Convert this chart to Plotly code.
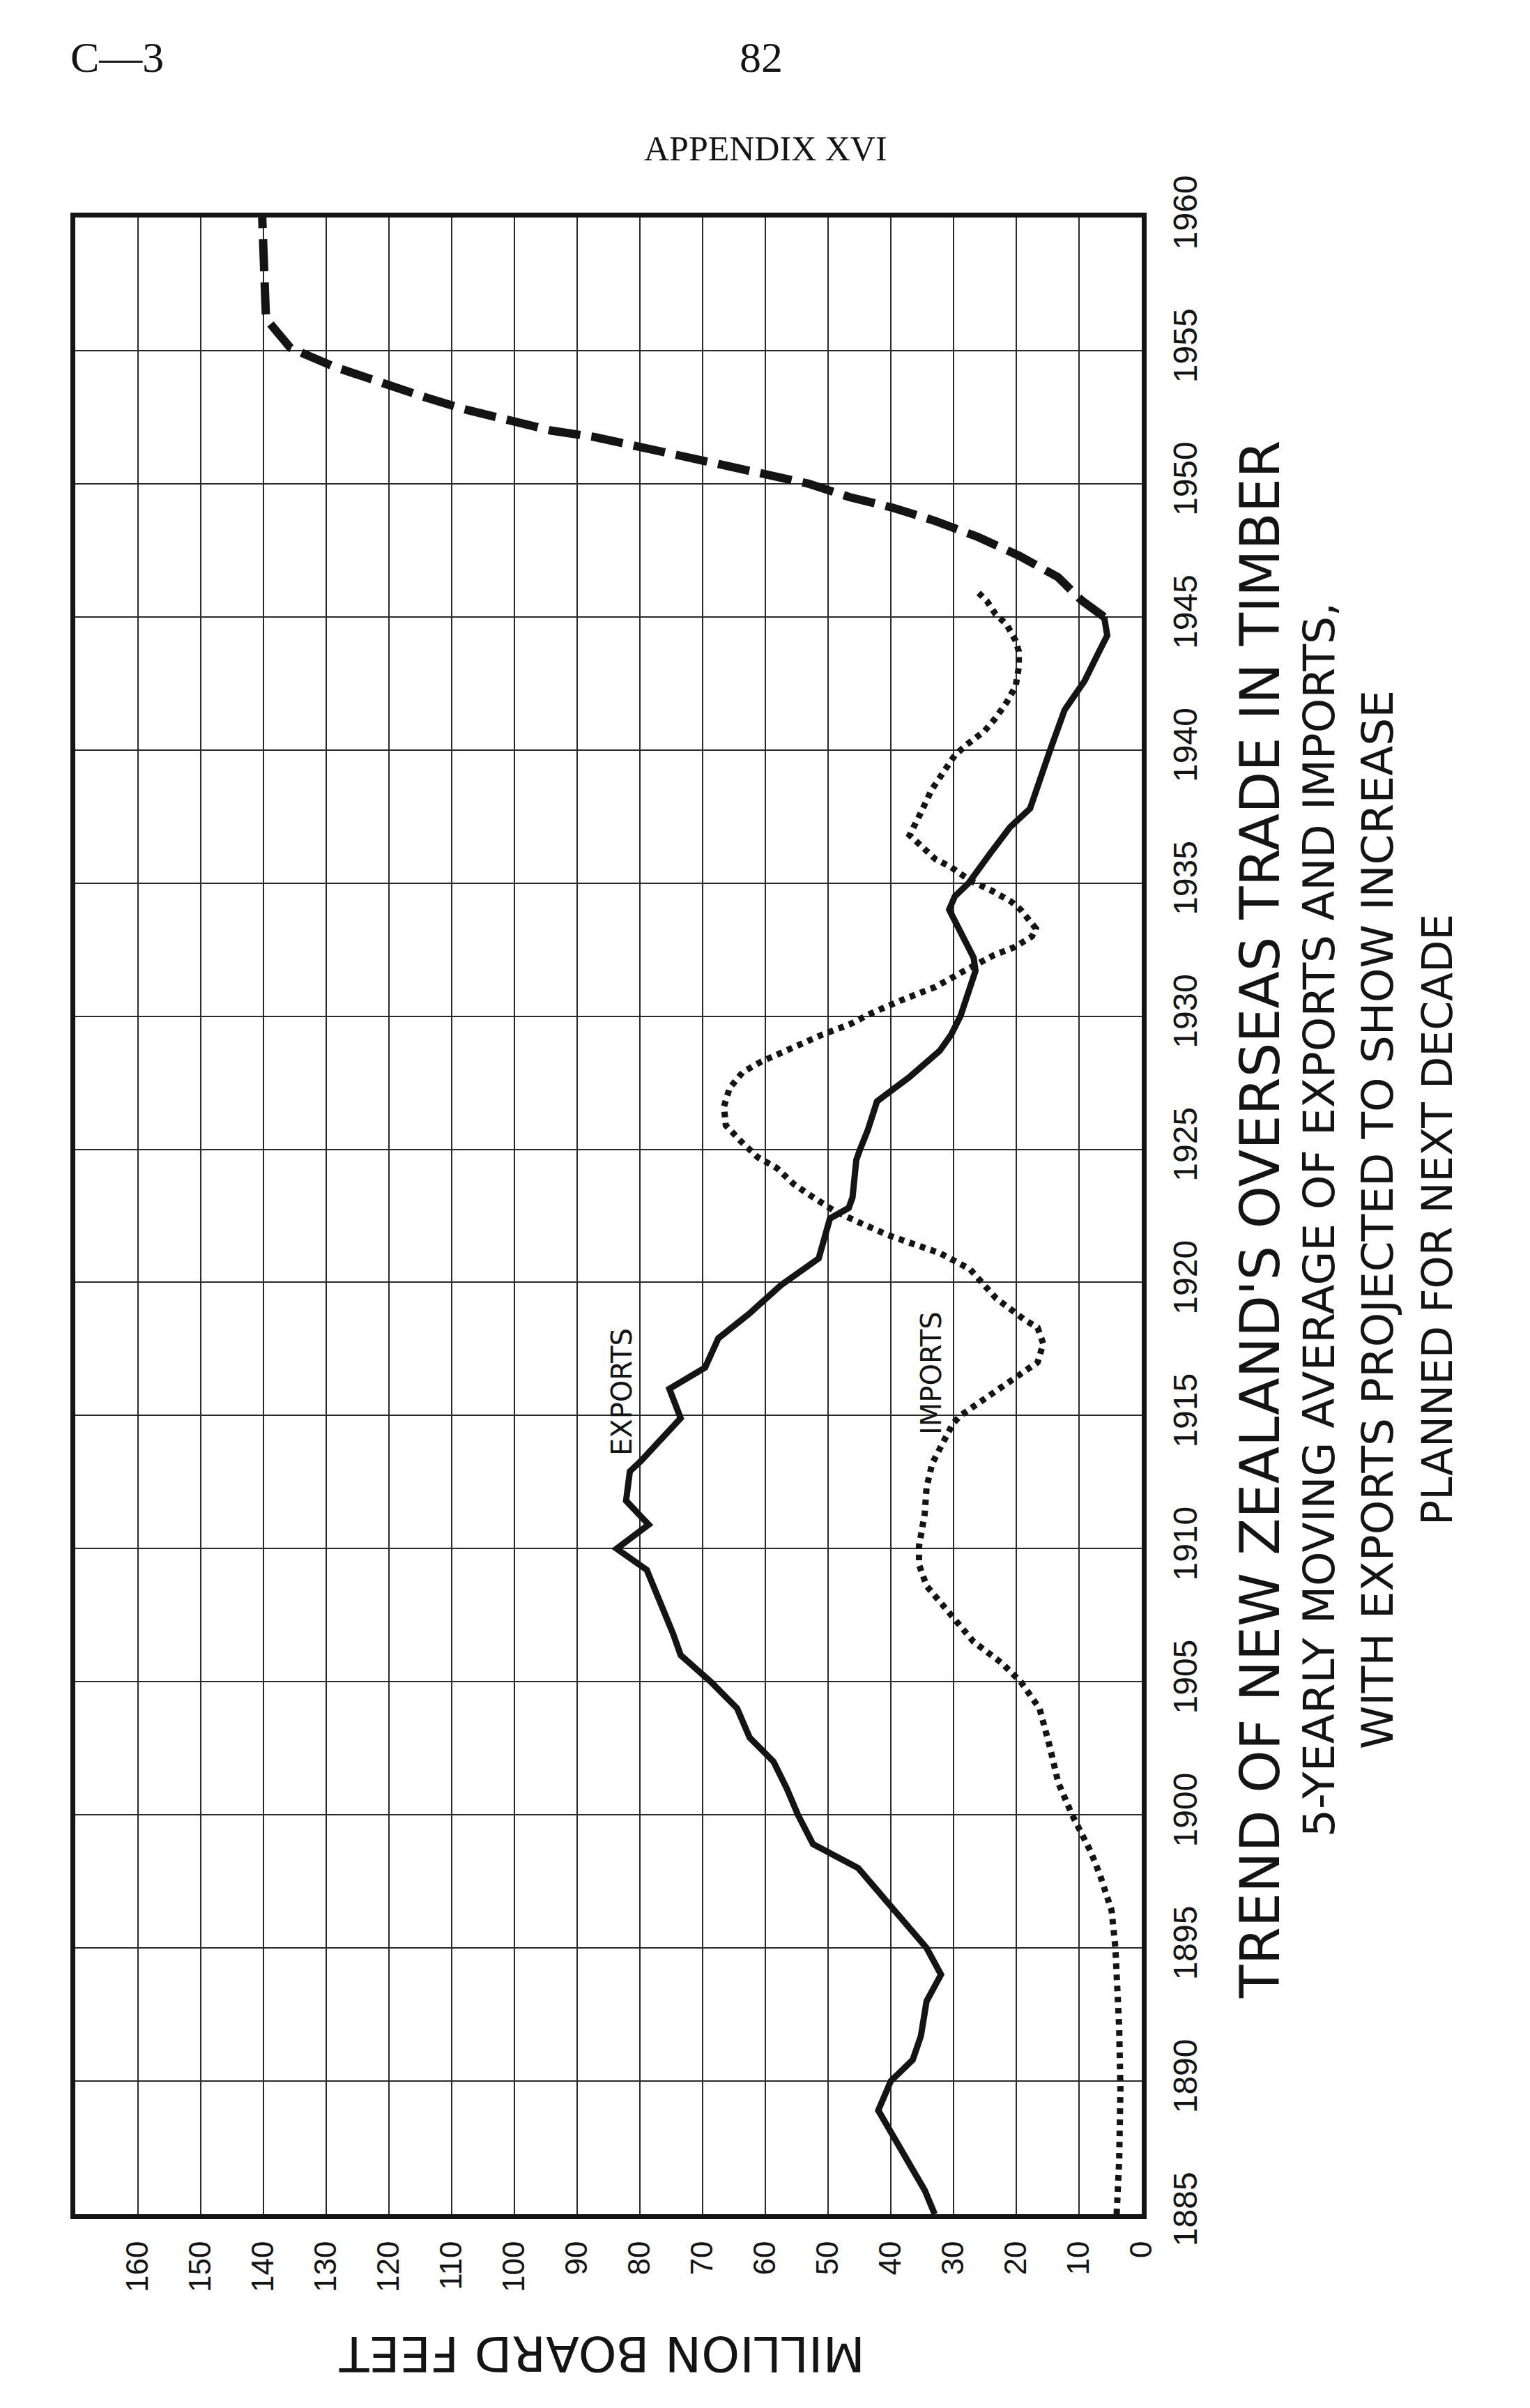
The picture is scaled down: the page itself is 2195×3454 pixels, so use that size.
import plotly.graph_objects as go

# ---------------- data ----------------
export_years = [1885.0, 1885.9, 1888.9, 1890.0, 1890.8, 1891.7, 1893.0, 1894.0, 1895.0,
                1896.5, 1897.7, 1898.0, 1898.9, 1899.3, 1900.0, 1901.0, 1902.0, 1902.9,
                1904.0, 1905.0, 1906.0, 1906.8, 1908.0, 1909.2, 1910.0, 1910.9, 1911.8,
                1912.9, 1913.3, 1914.9, 1916.0, 1916.8, 1917.9, 1918.8, 1919.9, 1920.9,
                1922.4, 1922.8, 1923.2, 1924.6, 1925.0, 1925.7, 1926.8, 1927.3, 1927.7,
                1928.7, 1929.3, 1930.0, 1931.0, 1931.7, 1932.2, 1933.0, 1934.0, 1934.5,
                1935.0, 1936.1, 1937.1, 1937.8, 1938.8, 1940.0, 1941.5, 1942.6, 1943.7,
                1944.3, 1945.0]
export_values = [33.0, 34.6, 42.0, 40.0, 36.5, 35.2, 34.3, 32.0, 34.3,
                 39.8, 44.0, 45.2, 52.4, 53.3, 54.8, 56.6, 58.7, 62.5,
                 64.5, 68.7, 73.5, 74.7, 76.8, 78.9, 83.7, 78.6, 82.2,
                 81.6, 79.8, 73.5, 75.3, 69.6, 67.5, 62.7, 57.5, 51.5,
                 49.7, 46.7, 46.1, 45.5, 44.9, 43.7, 42.2, 39.5, 37.1,
                 32.2, 30.4, 28.9, 27.4, 26.5, 26.8, 28.6, 30.7, 29.8,
                 27.6, 24.2, 21.0, 17.8, 16.4, 14.6, 12.3, 9.1, 6.8,
                 5.5, 6.0]

import_years = [1885.0, 1887.0, 1889.7, 1892.0, 1895.0, 1896.4, 1897.7, 1898.6, 1900.0,
                1901.2, 1902.6, 1904.0, 1905.0, 1905.7, 1906.5, 1907.4, 1908.6, 1909.4,
                1910.1, 1911.3, 1912.3, 1913.2, 1913.9, 1914.7, 1915.0, 1915.5, 1916.1,
                1916.6, 1917.0, 1917.7, 1918.3, 1918.6, 1919.4, 1920.5, 1921.1, 1921.5,
                1921.8, 1922.3, 1922.7, 1923.2, 1923.7, 1924.3, 1924.7, 1925.3, 1925.9,
                1926.6, 1927.3, 1927.9, 1928.3, 1928.8, 1929.3, 1929.7, 1930.1, 1930.6,
                1931.1, 1931.7, 1932.3, 1932.6, 1933.0, 1933.3, 1934.0, 1934.3, 1934.7,
                1935.1, 1935.6, 1935.9, 1936.3, 1936.8, 1937.6, 1938.5, 1939.0, 1939.8,
                1940.2, 1940.7, 1941.2, 1941.8, 1942.4, 1943.1, 1943.7, 1944.1, 1944.7,
                1945.1, 1945.6, 1945.9]
import_values = [4.0, 3.6, 3.4, 3.6, 4.2, 4.8, 6.6, 8.1, 11.1,
                 13.3, 14.7, 16.3, 19.3, 22.3, 26.8, 30.1, 34.3, 35.5,
                 35.5, 34.6, 34.3, 33.4, 31.9, 30.1, 28.9, 25.9, 22.3,
                 19.0, 16.6, 15.7, 16.6, 18.7, 23.2, 27.4, 32.2, 37.1,
                 40.7, 45.5, 49.1, 52.4, 55.5, 58.2, 61.2, 63.9, 66.3,
                 66.6, 65.7, 63.6, 60.6, 55.8, 51.0, 46.5, 43.2, 38.3,
                 32.9, 28.3, 23.5, 20.2, 17.5, 16.9, 19.3, 20.8, 23.8,
                 27.4, 30.4, 32.9, 34.7, 37.0, 35.3, 33.5, 32.1, 29.8,
                 27.9, 25.1, 23.3, 21.5, 20.1, 19.6, 19.6, 20.1, 21.5,
                 23.3, 24.7, 26.0]

projection_years = [1945.0, 1945.6, 1946.5, 1947.3, 1948.0, 1948.6, 1949.1, 1949.5,
                    1950.0, 1950.35, 1950.7, 1951.05, 1951.45, 1951.75, 1952.0, 1952.4,
                    1952.8, 1953.3, 1953.85, 1954.4, 1955.1, 1955.9, 1956.2, 1960.0]
projection_values = [6.0, 9.5, 13.4, 19.6, 26.1, 32.9, 39.7, 46.6,
                     53.1, 59.8, 66.2, 73.5, 80.4, 87.1, 94.2, 101.2,
                     108.0, 114.9, 122.1, 128.8, 135.7, 138.5, 139.6, 140.2]

volume_ticks = list(range(0, 161, 10))
year_ticks = list(range(1885, 1961, 5))

title_lines = ["TREND OF NEW ZEALAND'S OVERSEAS TRADE IN TIMBER",
               "5-YEARLY MOVING AVERAGE OF EXPORTS AND IMPORTS,",
               "WITH EXPORTS PROJECTED TO SHOW INCREASE",
               "PLANNED FOR NEXT DECADE"]

# ---------------- layout geometry ----------------
W, H = 2195, 3454
L, R, T, B = 100, 1630, 304, 3168


def px(xp):
    return (xp - L) / (R - L)


def py(yp):
    return (B - yp) / (B - T)


INK = "#141414"

fig = go.Figure()

fig.add_trace(go.Scatter(
    x=export_values, y=export_years, mode="lines", name="Exports",
    line=dict(color=INK, width=9), hoverinfo="skip"))

fig.add_trace(go.Scatter(
    x=projection_values, y=projection_years, mode="lines", name="Projected exports",
    line=dict(color=INK, width=12, dash="46px,16px"), hoverinfo="skip"))

fig.add_trace(go.Scatter(
    x=import_values, y=import_years, mode="lines", name="Imports",
    line=dict(color=INK, width=9, dash="8px,8px"), hoverinfo="skip"))

annotations = []


def note(text, xp, yp, family, size, angle=0):
    annotations.append(dict(text=text, x=px(xp), y=py(yp), xref="paper", yref="paper",
                            xanchor="center", yanchor="middle", textangle=angle,
                            showarrow=False, font=dict(family=family, size=size, color=INK)))


# page header
note("C—3", 160, 74, "Liberation Serif", 62)
note("82", 1084, 74, "Liberation Serif", 62)
note("APPENDIX XVI", 1090, 205, "Liberation Serif", 50)

# titles (rotated)
title_x = [1800, 1884, 1968, 2054]
title_size = [78, 63, 63, 60]
for txt, xp, fs in zip(title_lines, title_x, title_size):
    note(txt, xp, 1742, "DejaVu Sans", fs, -90)

# axis title (upside down)
note("MILLION BOARD FEET", 856, 3368, "DejaVu Sans", 70, 180)

# series labels
note("EXPORTS", 884, 1988, "DejaVu Sans", 40, -90)
note("IMPORTS", 1328, 1962, "DejaVu Sans", 40, -90)

fig.update_layout(
    width=W, height=H,
    margin=dict(l=L, r=W - R, t=T, b=H - B, pad=0),
    paper_bgcolor="white", plot_bgcolor="white",
    showlegend=False,
    annotations=annotations,
    xaxis=dict(range=[170, 0], tickmode="array", tickvals=volume_ticks,
               ticktext=[str(v) for v in volume_ticks], tickangle=-90,
               tickfont=dict(family="Liberation Sans", size=44, color=INK),
               showgrid=True, gridcolor="#2a2a2a", gridwidth=2, zeroline=False,
               showline=True, linecolor=INK, linewidth=7, mirror=True,
               ticks="", ticklabelstandoff=14, fixedrange=True),
    yaxis=dict(range=[1885, 1960], tickmode="array", tickvals=year_ticks,
               ticktext=[str(v) for v in year_ticks], tickangle=-90, side="right",
               tickfont=dict(family="Liberation Sans", size=48, color=INK),
               showgrid=True, gridcolor="#2a2a2a", gridwidth=2, zeroline=False,
               showline=True, linecolor=INK, linewidth=7, mirror=True,
               ticks="", ticklabelstandoff=14, fixedrange=True),
)

fig.write_html("out.html")
